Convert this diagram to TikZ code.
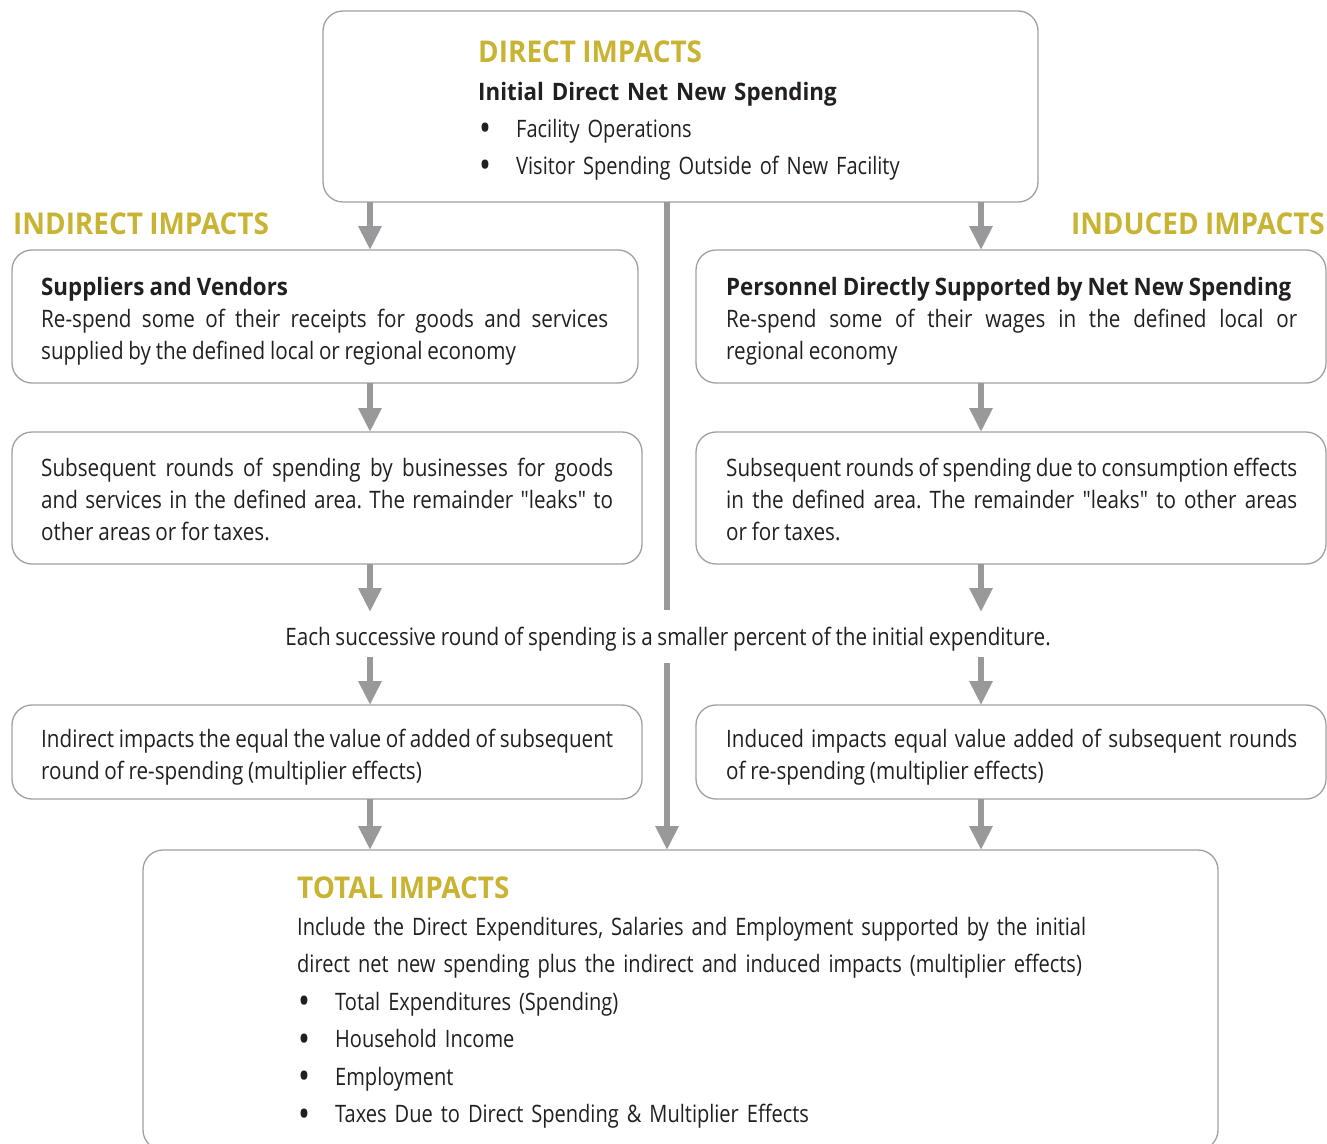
\documentclass[tikz,border=0pt]{standalone}
\usepackage{fontspec}
% plain straight quotes: no TeX ligature mapping on the main family
\defaultfontfeatures[\rmfamily]{}
\setmainfont{Open Sans}[FakeStretch=0.86, WordSpace=0.88, BoldFeatures={FakeStretch=0.93}]
\newfontfamily\listfont{Open Sans}[FakeStretch=0.835, WordSpace=0.85, BoldFeatures={FakeStretch=0.93}]
\usetikzlibrary{arrows.meta}
\definecolor{gold}{RGB}{200,180,50}
\definecolor{ink}{RGB}{35,31,32}
\definecolor{boxgray}{RGB}{160,160,162}
\definecolor{arrowgray}{RGB}{153,153,155}
\newcommand{\itembul}{\makebox[38pt][l]{\hspace{1pt}\raisebox{-4.5pt}{\fontsize{38}{38}\selectfont\textbullet}}}
\begin{document}
\frenchspacing
\begin{tikzpicture}[x=1pt,y=-1pt,
  box/.style={draw=boxgray, line width=1.3pt, rounded corners=20pt, inner sep=0pt, outer sep=0pt, anchor=north west},
  arr/.style={draw=arrowgray, line width=6pt, -{Triangle[width=22pt,length=24pt]}},
  trunk/.style={draw=arrowgray, line width=6pt},
  body/.style={anchor=base west, inner sep=0pt, text=ink, font=\fontsize{24}{32}\selectfont},
  para/.style={body, align=justify},
  list/.style={body, align=left, font=\listfont\fontsize{24}{37.5}\selectfont},
  heading/.style={anchor=base west, inner sep=0pt, text=gold, font=\fontsize{30}{32}\selectfont\bfseries}]
\useasboundingbox (0,0) rectangle (1327,1143);
\clip (0,0) rectangle (1327,1143);

% boxes
\node[box, minimum width=715pt, minimum height=191pt] (dir) at (323,11) {};
\node[box, minimum width=626pt, minimum height=133pt] (sup) at (12,250) {};
\node[box, minimum width=630pt, minimum height=133pt] (per) at (696,250) {};
\node[box, minimum width=630pt, minimum height=132pt] (lrnd) at (12,432) {};
\node[box, minimum width=630pt, minimum height=132pt] (rrnd) at (696,432) {};
\node[box, minimum width=630pt, minimum height=94pt] (lind) at (12,705) {};
\node[box, minimum width=630pt, minimum height=94pt] (rind) at (696,705) {};
\node[box, minimum width=1075pt, minimum height=300pt] (tot) at (143,850) {};

% column guides for the arrows
\coordinate (lx) at (370,0);
\coordinate (cx) at (667,0);
\coordinate (rx) at (981,0);

% direct impacts text
\node[heading] (dirh) at (478,62) {DIRECT IMPACTS};
\node[list, text width=540pt, font=\listfont\fontsize{24}{37}\selectfont] (dirt) at (478,100)
  {\textbf{Initial Direct Net New Spending}\\
   \itembul Facility Operations\\
   \itembul Visitor Spending Outside of New Facility};

% side headings
\node[heading] (indh) at (13,234) {INDIRECT IMPACTS};
\node[heading, anchor=base east] (inh) at (1325,234) {INDUCED IMPACTS};

% left column
\node[para, text width=567pt] (supt) at (41,295)
  {\textbf{Suppliers and Vendors}\\
   Re-spend some of their receipts for goods and services\linebreak
   supplied by the defined local or regional economy};
\node[para, text width=572pt] (lrndt) at (41,476)
  {Subsequent rounds of spending by businesses for goods\linebreak
   and services in the defined area. The remainder "leaks" to\linebreak
   other areas or for taxes.};
\node[para, text width=572pt] (lindt) at (41,747)
  {Indirect impacts the equal the value of added of subsequent\\
   round of re-spending (multiplier effects)};

% right column
\node[para, text width=571pt] (pert) at (726,295)
  {\textbf{Personnel Directly Supported by Net New Spending}\\
   Re-spend some of their wages in the defined local or\linebreak
   regional economy};
\node[para, text width=571pt] (rrndt) at (726,476)
  {Subsequent rounds of spending due to consumption effects\linebreak
   in the defined area. The remainder "leaks" to other areas\linebreak
   or for taxes.};
\node[para, text width=571pt] (rindt) at (726,747)
  {Induced impacts equal value added of subsequent rounds\linebreak
   of re-spending (multiplier effects)};

% middle statement
\node[body, anchor=base] (mid) at (668,645)
  {Each successive round of spending is a smaller percent of the initial expenditure.};

% total impacts text
\node[heading] (toth) at (297,898) {TOTAL IMPACTS};
\node[list, text width=880pt] (tott) at (297,935)
  {Include the Direct Expenditures, Salaries and Employment supported by the initial\\
   direct net new spending plus the indirect and induced impacts (multiplier effects)\\
   \itembul Total Expenditures (Spending)\\
   \itembul Household Income\\
   \itembul Employment\\
   \itembul Taxes Due to Direct Spending \& Multiplier Effects};

% connectors
\draw[arr] (dir.south -| lx) -- (sup.north -| lx);
\draw[arr] (dir.south -| rx) -- (per.north -| rx);
\draw[arr] (sup.south -| lx) -- (lrnd.north -| lx);
\draw[arr] (per.south -| rx) -- (rrnd.north -| rx);
\draw[arr] (lrnd.south -| lx) -- (lx |- 612,612);
\draw[arr] (rrnd.south -| rx) -- (rx |- 612,612);
\draw[arr] (lx |- 657,657) -- (lind.north -| lx);
\draw[arr] (rx |- 657,657) -- (rind.north -| rx);
\draw[arr] (lind.south -| lx) -- (tot.north -| lx);
\draw[arr] (rind.south -| rx) -- (tot.north -| rx);
\draw[trunk] (dir.south -| cx) -- (cx |- 610,610);
\draw[arr] (cx |- 663,663) -- (tot.north -| cx);
\end{tikzpicture}
\end{document}
